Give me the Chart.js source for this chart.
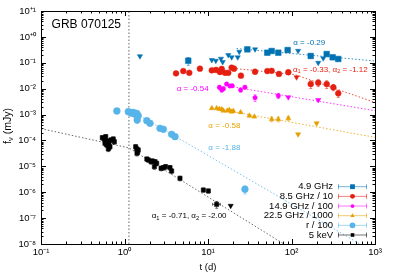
<!DOCTYPE html>
<html><head><meta charset="utf-8">
<script src="https://cdn.jsdelivr.net/npm/chart.js@4.4.1/dist/chart.umd.min.js"></script>
<style>html,body{margin:0;padding:0;background:#fff}</style>
</head><body>
<canvas id="c" width="395" height="275" style="width:395px;height:275px;display:block"></canvas>
<script>
const FONT = "'Liberation Sans', Arial, Helvetica, sans-serif";

// ---- tick labels ----
const xTickValues = [0.1, 1, 10, 100, 1000];
const xTickLabels = ['10\u207B\u00B9', '10\u2070', '10\u00B9', '10\u00B2', '10\u00B3'];
const yTickValues = [1e-8, 1e-7, 1e-6, 1e-5, 1e-4, 1e-3, 1e-2, 1e-1, 1, 10];
const yTickLabels = ['10\u207B\u2078', '10\u207B\u2077', '10\u207B\u2076', '10\u207B\u2075', '10\u207B\u2074',
                     '10\u207B\u00B3', '10\u207B\u00B2', '10\u207B\u00B9', '10\u207A\u2070', '10\u207A\u00B9'];

// ---- 4.9 GHz ----
const t49 = [5.8, 29.6, 51.3, 57.9, 69.5, 89.9, 170, 264, 311, 363];
const f49 = [0.12, 0.33, 0.245, 0.285, 0.245, 0.31, 0.183, 0.218, 0.163, 0.14];
const e49 = [0.04, 0.04, 0.03, 0.03, 0.03, 0.035, 0.025, 0.025, 0.02, 0.02];
const t49UL = [1.53, 11.1, 12.4, 14.3, 15.0, 17.5, 19.2, 22.7, 23.7, 36.6, 120, 209, 240];
const f49UL = [0.18, 0.128, 0.12, 0.144, 0.107, 0.20, 0.163, 0.163, 0.268, 0.33, 0.29, 0.10, 0.149];
const fit49 = [[22, 0.354], [1000, 0.117]];

// ---- 8.5 GHz / 10 ----
const t85 = [4.14, 5.06, 5.97, 8.0, 11.1, 12.5, 13.9, 14.6, 16.0, 17.5, 19.2, 20.5, 24.8, 36.6, 51.3, 57.9, 70.8, 91.6, 170, 209, 264, 317, 363];
const f85 = [0.039, 0.048, 0.041, 0.059, 0.051, 0.053, 0.044, 0.058, 0.041, 0.041, 0.065, 0.059, 0.0317, 0.045, 0.048, 0.049, 0.037, 0.043, 0.0151, 0.017, 0.0151, 0.0113, 0.0066];
const e85 = [0.004, 0.004, 0.004, 0.005, 0.004, 0.004, 0.004, 0.004, 0.004, 0.004, 0.005, 0.005, 0.004, 0.004, 0.004, 0.004, 0.004, 0.004, 0.005, 0.005, 0.005, 0.003, 0.002];
const t85UL = [115];
const f85UL = [0.0275];
const fit85 = [[20, 0.061], [110, 0.0348], [1000, 0.00294]];

// ---- 14.9 GHz / 100 ----
const t149 = [13.7, 14.6, 15.3, 16.7, 18.3, 19.5, 24.6, 27.7, 36.6, 69.5];
const f149 = [0.0113, 0.0089, 0.010, 0.0151, 0.0127, 0.0129, 0.0089, 0.0113, 0.00448, 0.00536];
const e149 = [0.002, 0.0015, 0.0015, 0.0015, 0.0015, 0.0015, 0.0015, 0.0015, 0.0013, 0.0012];
const t149UL = [91.6, 209];
const f149UL = [0.00465, 0.00365];
const fit149 = [[20, 0.0117], [1000, 0.00141]];

// ---- 22.5 GHz / 1000 ----
const t225 = [11.1, 12.7, 13.7, 14.6, 15.3, 17.0, 18.0, 19.2, 20.1, 24.6, 31.3, 35.9, 57.9, 69.5, 91.6];
const f225 = [0.00175, 0.00175, 0.00164, 0.0016, 0.00141, 0.00141, 0.0015, 0.00129, 0.00137, 0.00122, 0.0009, 0.00083, 0.00066, 0.00066, 0.00072];
const e225 = [0.0001, 0.0001, 0.0001, 0.0001, 0.0001, 0.0001, 0.0001, 0.0001, 0.0001, 0.0001, 0.00008, 0.00008, 0.00014, 0.00014, 0.00014];
const t225UL = [120, 200];
const f225UL = [0.000173, 0.00046];
const fit225 = [[20, 0.00128], [1000, 0.000132]];

// ---- r / 100 ----
const tR = [0.81, 1.11, 1.16, 1.22, 1.27, 1.34, 1.40, 1.46, 1.42, 1.85, 2.02, 2.66, 2.92, 3.67, 4.03, 27.7];
const fR = [0.00137, 0.00129, 0.00122, 0.00112, 0.00122, 0.00102, 0.00112, 0.0009, 0.00062, 0.00058, 0.00046, 0.000294, 0.00027, 0.000173, 0.00014, 1.3e-6];
const eR = [0.00004, 0.00004, 0.00004, 0.00004, 0.00004, 0.00004, 0.00004, 0.00004, 0.00017, 0.00003, 0.00003, 0.00002, 0.00002, 0.00001, 0.00001, 0.45e-6];
const fitR = [[1.2, 0.00142], [660, 1e-8]];

// ---- 5 keV ----
const tX = [0.542, 0.573, 0.596, 0.630, 0.652, 0.689, 0.734, 0.612, 0.670, 0.640, 0.583, 0.756,
            1.36, 1.40, 1.44, 1.46, 1.41,
            1.85, 1.93, 2.08, 2.15, 2.32, 2.28, 2.43, 2.74, 2.92, 3.11, 3.51, 3.67, 4.62,
            8.8, 10.1, 12.7];
const fX = [1.28e-4, 1.14e-4, 1.40e-4, 9.5e-5, 7.8e-5, 1.04e-4, 1.14e-4, 6.7e-5, 5.7e-5, 4.7e-5, 7.8e-5, 8.9e-5,
            5.7e-5, 4.7e-5, 3.7e-5, 4.3e-5, 3.2e-5,
            1.92e-5, 1.76e-5, 1.51e-5, 1.61e-5, 1.51e-5, 9.7e-6, 1.31e-5, 8.4e-6, 8.9e-6, 9.7e-6, 8.9e-6, 6.6e-6, 3.45e-6,
            1.22e-6, 1.12e-6, 3.4e-7];
const eX = [2.5e-5, 2.2e-5, 2.8e-5, 1.9e-5, 1.6e-5, 2.1e-5, 2.2e-5, 1.4e-5, 1.2e-5, 1.0e-5, 1.6e-5, 1.8e-5,
            1.1e-5, 0.9e-5, 0.8e-5, 0.9e-5, 0.7e-5,
            3.5e-6, 3.3e-6, 3.0e-6, 3.2e-6, 3.0e-6, 2.0e-6, 2.6e-6, 1.7e-6, 1.8e-6, 2.0e-6, 1.8e-6, 1.4e-6, 0.7e-6,
            0.22e-6, 0.2e-6, 0.1e-6];
const xErrX = [0, 0, 0, 0, 0, 0, 0, 0, 0, 0, 0, 0, 0, 0, 0, 0, 0, 0, 0, 0, 0, 0, 0, 0, 0, 0, 0, 0, 0, 0, 0, 0, 1.35];
const tXUL = [18.7];
const fXUL = [3.0e-7];
const fitX = [[0.1, 2.87e-4], [1.13, 5.14e-5], [81, 1e-8]];

// ---- vertical marker ----
const tMark = [1.13];

// ---- annotations (text, anchor t, anchor f) ----
const notes = [
  {text: 'GRB 070125', t: 0.134, f: 3.06, size: 12, color: '#000'},
  {text: '\u03B1 = -0.29', t: 105, f: 0.597, size: 8, color: '#0072b2'},
  {text: '\u03B1_1 = -0.33, \u03B1_2 = -1.12', t: 104, f: 0.055, size: 8, color: '#e51e10'},
  {text: '\u03B1 = -0.54', t: 4.22, f: 0.0102, size: 8, color: '#ff00ff'},
  {text: '\u03B1 = -0.58', t: 10.1, f: 3.7e-4, size: 8, color: '#e69f00'},
  {text: '\u03B1 = -1.88', t: 10.1, f: 5.4e-5, size: 8, color: '#56b4e9'},
  {text: '\u03B1_1 = -0.71, \u03B1_2 = -2.00', t: 2.12, f: 1.2e-7, size: 8, color: '#000'}
];

function rgba(hex, a) {
  const n = parseInt(hex.slice(1), 16);
  return `rgba(${(n >> 16) & 255},${(n >> 8) & 255},${n & 255},${a})`;
}

const SERIES = [
  {label: '4.9 GHz', color: '#0072b2', style: 'rect', r: 4.0, t: t49, f: f49, e: e49, tUL: t49UL, fUL: f49UL, fit: fit49},
  {label: '8.5 GHz / 10', color: '#e51e10', style: 'circle', r: 2.9, t: t85, f: f85, e: e85, tUL: t85UL, fUL: f85UL, fit: fit85},
  {label: '14.9 GHz / 100', color: '#ff00ff', style: 'circle', r: 2.2, t: t149, f: f149, e: e149, tUL: t149UL, fUL: f149UL, fit: fit149},
  {label: '22.5 GHz / 1000', color: '#e69f00', style: 'triangle', r: 2.9, t: t225, f: f225, e: e225, tUL: t225UL, fUL: f225UL, fit: fit225},
  {label: 'r / 100', color: '#56b4e9', style: 'circle', r: 3.4, t: tR, f: fR, e: eR, tUL: [], fUL: [], fit: fitR},
  {label: '5 keV', color: '#000000', style: 'rect', r: 3.0, t: tX, f: fX, e: eX, ex: xErrX, tUL: tXUL, fUL: fXUL, fit: fitX}
];

const datasets = [];
datasets.push({type: 'line', data: [{x: tMark[0], y: 1e-8}, {x: tMark[0], y: 10}], borderColor: '#666',
  borderWidth: 1, borderDash: [1.5, 2], pointRadius: 0, showLine: true, fill: false, order: 10});
SERIES.forEach((s) => {
  datasets.push({type: 'line', data: s.fit.map(p => ({x: p[0], y: p[1]})), borderColor: rgba(s.color, s.color === '#000000' ? 0.6 : 0.8),
    borderWidth: 1, borderDash: [1.5, 2], pointRadius: 0, showLine: true, fill: false, order: 9});
});
SERIES.forEach((s, k) => {
  datasets.push({label: s.label, type: 'scatter', data: s.t.map((t, i) => ({x: t, y: s.f[i]})),
    errY: s.e, errX: s.ex, errColor: rgba(s.color, 0.55),
    pointStyle: s.style, pointRadius: s.r, pointBackgroundColor: s.color, pointBorderColor: s.color,
    pointBorderWidth: 0.5, order: 6 - k});
  if (s.tUL.length) {
    datasets.push({type: 'scatter', data: s.tUL.map((t, i) => ({x: t, y: s.fUL[i]})),
      pointStyle: 'triangle', pointRotation: 180, pointRadius: 3.0, pointBackgroundColor: s.color,
      pointBorderColor: s.color, pointBorderWidth: 0.5, order: 6 - k});
  }
});

function richText(ctx, str, x, y, size, color, align) {
  const parts = []; let i = 0;
  while (i < str.length) {
    if (str[i] === '_') { parts.push({t: str[i + 1], sub: true}); i += 2; }
    else { let j = i; while (j < str.length && str[j] !== '_') j++; parts.push({t: str.slice(i, j), sub: false}); i = j; }
  }
  const subSize = size * 0.72;
  let w = 0;
  parts.forEach(p => { ctx.font = `${p.sub ? subSize : size}px ${FONT}`; p.w = ctx.measureText(p.t).width; w += p.w; });
  let cx = align === 'right' ? x - w : align === 'center' ? x - w / 2 : x;
  ctx.fillStyle = color; ctx.textBaseline = 'middle'; ctx.textAlign = 'left';
  parts.forEach(p => { ctx.font = `${p.sub ? subSize : size}px ${FONT}`; ctx.fillText(p.t, cx, p.sub ? y + size * 0.3 : y); cx += p.w; });
}

function marker(ctx, style, x, y, r, color) {
  ctx.fillStyle = color;
  ctx.beginPath();
  if (style === 'rect') { const s = Math.SQRT1_2 * r; ctx.rect(x - s, y - s, 2 * s, 2 * s); }
  else if (style === 'circle') { ctx.arc(x, y, r, 0, Math.PI * 2); }
  else if (style === 'triangle') {
    ctx.moveTo(x, y - r); ctx.lineTo(x + r * 0.866, y + r * 0.5); ctx.lineTo(x - r * 0.866, y + r * 0.5); ctx.closePath();
  }
  ctx.fill();
}

const deco = {
  id: 'deco',
  beforeDatasetsDraw(chart) {
    const {ctx, chartArea: a, scales: {x, y}} = chart;
    ctx.save();
    ctx.beginPath(); ctx.rect(a.left, a.top, a.right - a.left, a.bottom - a.top); ctx.clip();
    ctx.lineWidth = 1;
    chart.data.datasets.forEach(ds => {
      if (!ds.errY) return;
      ctx.strokeStyle = ds.errColor;
      ds.data.forEach((p, i) => {
        const px = x.getPixelForValue(p.x), py = y.getPixelForValue(p.y);
        const e = ds.errY[i];
        ctx.beginPath();
        if (e) {
          const y1 = y.getPixelForValue(Math.max(p.y - e, p.y * 0.05)), y2 = y.getPixelForValue(p.y + e);
          ctx.moveTo(px, y1); ctx.lineTo(px, y2);
          ctx.moveTo(px - 1.5, y1); ctx.lineTo(px + 1.5, y1);
          ctx.moveTo(px - 1.5, y2); ctx.lineTo(px + 1.5, y2);
        }
        const ex = ds.errX ? ds.errX[i] : 0;
        if (ex) {
          const x1 = x.getPixelForValue(p.x - ex), x2 = x.getPixelForValue(p.x + ex);
          ctx.moveTo(x1, py); ctx.lineTo(x2, py);
          ctx.moveTo(x1, py - 1.5); ctx.lineTo(x1, py + 1.5);
          ctx.moveTo(x2, py - 1.5); ctx.lineTo(x2, py + 1.5);
        }
        ctx.stroke();
      });
    });
    ctx.restore();
  },
  afterDraw(chart) {
    const {ctx, chartArea: a, scales: {x, y}} = chart;
    ctx.save();
    ctx.strokeStyle = '#000'; ctx.lineWidth = 1;
    ctx.strokeRect(Math.round(a.left) + 0.5, Math.round(a.top) + 0.5, Math.round(a.right - a.left), Math.round(a.bottom - a.top));
    ctx.beginPath();
    for (let d = -1; d <= 3; d++) {
      for (let k = 1; k <= 9; k++) {
        const v = k * Math.pow(10, d); if (v > 1000.0001) break;
        const px = Math.round(x.getPixelForValue(v)) + 0.5; const L = k === 1 ? 5 : 2.5;
        ctx.moveTo(px, a.bottom); ctx.lineTo(px, a.bottom - L);
        ctx.moveTo(px, a.top); ctx.lineTo(px, a.top + L);
      }
    }
    for (let d = -8; d <= 1; d++) {
      for (let k = 1; k <= 9; k++) {
        const v = k * Math.pow(10, d); if (v > 10.0001) break;
        const py = Math.round(y.getPixelForValue(v)) + 0.5; const L = k === 1 ? 5 : 2.5;
        ctx.moveTo(a.left, py); ctx.lineTo(a.left + L, py);
        ctx.moveTo(a.right, py); ctx.lineTo(a.right - L, py);
      }
    }
    ctx.stroke();
    notes.forEach(n => richText(ctx, n.text, x.getPixelForValue(n.t), y.getPixelForValue(n.f), n.size, n.color, 'left'));
    ctx.save();
    ctx.translate(8, 126); ctx.rotate(-Math.PI / 2);
    richText(ctx, 'f_\u03BD (mJy)', 0, 0, 10.5, '#000', 'center');
    ctx.restore();
    const lx = 333, sx1 = 338, sx2 = 367, y0 = 186.7, dy = 9.66;
    SERIES.forEach((s, i) => {
      const yy = y0 + i * dy;
      richText(ctx, s.label, lx, yy, 9.5, '#000', 'right');
      ctx.strokeStyle = rgba(s.color, 0.55); ctx.lineWidth = 1;
      ctx.beginPath();
      ctx.moveTo(sx1, yy); ctx.lineTo(sx2, yy);
      ctx.moveTo(sx1 + 0.5, yy - 2.5); ctx.lineTo(sx1 + 0.5, yy + 2.5);
      ctx.moveTo(sx2 - 0.5, yy - 2.5); ctx.lineTo(sx2 - 0.5, yy + 2.5);
      ctx.stroke();
      marker(ctx, s.style, (sx1 + sx2) / 2, yy, s.r * 0.85, s.color);
    });
    ctx.restore();
  }
};

new Chart(document.getElementById('c'), {
  data: {datasets},
  options: {
    responsive: false, animation: false, devicePixelRatio: 1,
    layout: {padding: {left: 0, right: 20, top: 11, bottom: 0}},
    plugins: {legend: {display: false}, tooltip: {enabled: false}},
    scales: {
      x: {
        type: 'logarithmic', min: 0.1, max: 1000, bounds: 'data', position: 'bottom',
        grid: {display: false, drawTicks: false}, border: {display: false},
        afterBuildTicks: s => { s.ticks = xTickValues.map(v => ({value: v})); },
        afterFit: s => { s.height = 31; },
        ticks: {autoSkip: false, maxRotation: 0, padding: 3, color: '#000', font: {family: FONT, size: 9.5},
          callback: (v) => xTickLabels[xTickValues.findIndex(u => Math.abs(Math.log10(u) - Math.log10(v)) < 1e-6)]},
        title: {display: true, text: 't (d)', color: '#000', font: {family: FONT, size: 9.5}, padding: {top: 0, bottom: 2}}
      },
      y: {
        type: 'logarithmic', min: 1e-8, max: 10, bounds: 'data', position: 'left',
        grid: {display: false, drawTicks: false}, border: {display: false},
        afterBuildTicks: s => { s.ticks = yTickValues.map(v => ({value: v})); },
        afterFit: s => { s.width = 41; },
        ticks: {autoSkip: false, padding: 5, color: '#000', font: {family: FONT, size: 9.5},
          callback: (v) => yTickLabels[yTickValues.findIndex(u => Math.abs(Math.log10(u) - Math.log10(v)) < 1e-6)]}
      }
    }
  },
  plugins: [deco]
});
</script>
</body></html>
